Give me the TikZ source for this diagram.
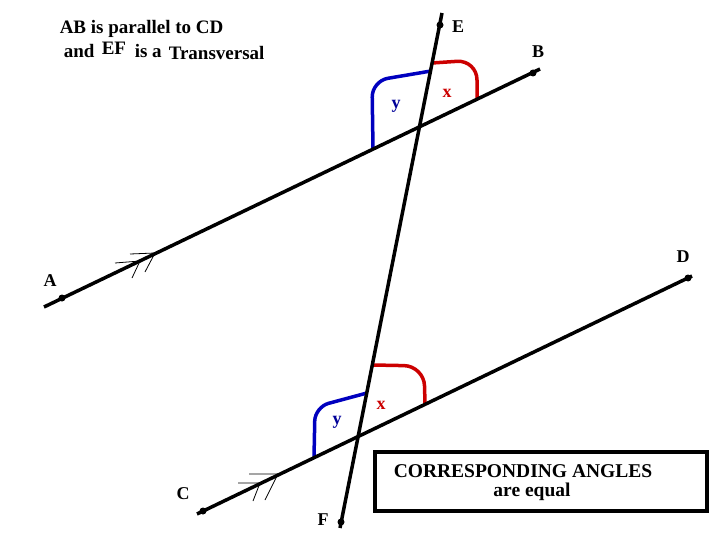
\documentclass[tikz,border=0pt]{standalone}
\usepackage{fontspec}
\setmainfont{Liberation Serif}
\begin{document}
\begin{tikzpicture}[x=1pt,y=-1pt,line width=3.5pt,
    dot/.style={circle,fill,inner sep=0pt,minimum size=7pt},
    letter/.style={font=\bfseries\fontsize{18}{20}\selectfont},
    headtext/.style={anchor=base west,inner sep=0pt,font=\bfseries\fontsize{19}{22}\selectfont},
    angle y/.style={draw=blue!75!black},
    angle x/.style={draw=red!80!black},
    tick/.style={line width=0.8pt}]

    \useasboundingbox (0,0) rectangle (719,540);

    % heading
    \node[headtext] at (58,34) (head1) {AB is parallel to CD};
    \node[headtext] at (62,58) (head2) {and};
    \node[headtext] at (100,55) (head3) {EF};
    \node[headtext] at (133,58) (head4) {is a};
    \node[headtext] at (167,60) (head5) {Transversal};

    % angles at the upper crossing
    \draw[angle y,rounded corners=16pt] (373,149) -- (372,81) -- (431,71);
    \draw[angle x,rounded corners=20pt] (432,63) -- (477,60) -- (477,99);
    % angles at the lower crossing
    \draw[angle y,rounded corners=14pt] (314,458) -- (315,407) -- (367,393);
    \draw[angle x,rounded corners=20pt] (373,365) -- (424,366) -- (425,404);

    % end points of the lines
    \coordinate (a0) at (44,307);
    \coordinate (b0) at (540,69);
    \coordinate (c0) at (197,514);
    \coordinate (d0) at (692,276);
    \coordinate (e0) at (442,13);
    \coordinate (f0) at (340,528);

    \node[dot] at (62,298) (a) {};
    \node[dot] at (533,73) (b) {};
    \node[dot] at (203,511) (c) {};
    \node[dot] at (688,278) (d) {};
    \node[dot] at (440,25) (e) {};
    \node[dot] at (341,522) (f) {};

    \draw (a0) -- (b0);
    \draw (c0) -- (d0);
    \draw (e0) -- (f0);

    % parallel marks
    \draw[tick] (115,263) -- (140,261) -- (132,278);
    \draw[tick] (130,254) -- (155,253) -- (145,272);
    \draw[tick] (238,483) -- (260,483) -- (253,501);
    \draw[tick] (249,474) -- (278,474) -- (265,500);

    % point labels
    \node[letter] at (50,281) (la) {A};
    \node[letter] at (538,52) (lb) {B};
    \node[letter] at (183,494) (lc) {C};
    \node[letter] at (683,257) (ld) {D};
    \node[letter] at (458,27) (le) {E};
    \node[letter] at (323,520) (lf) {F};

    % angle labels
    \node[letter,text=blue!60!black] at (396,106) (y1) {y};
    \node[letter,text=red!80!black] at (447,93) (x1) {x};
    \node[letter,text=blue!60!black] at (337,422) (y2) {y};
    \node[letter,text=red!80!black] at (381,405) (x2) {x};

    % note box
    \draw[line width=4pt] (375,452) rectangle (707,511);
    \node[font=\bfseries\fontsize{19.5}{22}\selectfont] at (523,471) (note1) {CORRESPONDING ANGLES};
    \node[font=\bfseries\fontsize{19.5}{22}\selectfont] at (532,492) (note2) {are equal};
\end{tikzpicture}
\end{document}
